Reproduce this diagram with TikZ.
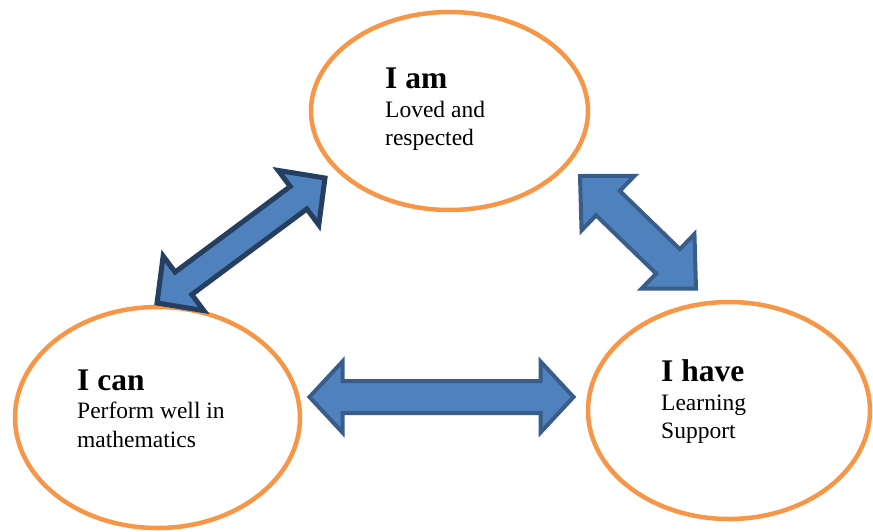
\documentclass[tikz,border=0pt]{standalone}
\usepackage{fontspec}
\setmainfont{Liberation Serif}
\usetikzlibrary{calc,shapes.geometric}
\definecolor{ellorange}{HTML}{F79646}
\definecolor{arrfill}{HTML}{4F81BD}
\definecolor{arredge}{HTML}{385D8A}
\definecolor{arredgedark}{HTML}{243F60}
\tikzset{
  oval/.style={ellipse, draw=ellorange, line width=4.5pt, fill=white, inner sep=0pt, outer sep=0pt},
  titletext/.style={anchor=base west, inner sep=0pt, font=\fontsize{31.5}{36}\selectfont\bfseries},
  bodytext/.style={anchor=base west, inner sep=0pt, font=\fontsize{23.5}{28}\selectfont},
  blockarrow/.style={fill=arrfill, draw=arredge, line width=4pt, line join=miter},
  blockarrowdark/.style={blockarrow, draw=arredgedark, line width=5pt}
}
% #1 style, #2 from, #3 to, #4 head length, #5 head half width, #6 shaft half width
\newcommand\blockarr[6]{%
  \draw[#1] (#2)
    -- ($(#2)!#4!(#3)!#5!90:(#3)$)
    -- ($(#2)!#4!(#3)!#6!90:(#3)$)
    -- ($(#3)!#4!(#2)!#6!90:(#3)$)
    -- ($(#3)!#4!(#2)!#5!90:(#3)$)
    -- (#3)
    -- ($(#3)!#4!(#2)!#5!-90:(#3)$)
    -- ($(#3)!#4!(#2)!#6!-90:(#3)$)
    -- ($(#2)!#4!(#3)!#6!-90:(#3)$)
    -- ($(#2)!#4!(#3)!#5!-90:(#3)$)
    -- cycle;}
\begin{document}
\begin{tikzpicture}[x=1pt,y=-1pt]
\useasboundingbox (0,0) rectangle (873,531);
% ellipses
\node[oval, minimum width=277pt, minimum height=198pt] (am) at (449.5,111) {};
\node[oval, minimum width=285pt, minimum height=221pt] (can) at (157.5,417.5) {};
\node[oval, minimum width=282pt, minimum height=217pt] (have) at (729,410.5) {};
% arrow end points
\coordinate (l1) at (157,303);
\coordinate (l2) at (325,178);
\coordinate (r1) at (580,176);
\coordinate (r2) at (696,288.5);
\coordinate (h1) at (309.5,397);
\coordinate (h2) at (573.5,397);
% block arrows
\blockarr{blockarrowdark}{l1}{l2}{33pt}{34pt}{14pt}
\blockarr{blockarrow}{r1}{r2}{39pt}{38pt}{17pt}
\blockarr{blockarrow}{h1}{h2}{33pt}{35.5pt}{16pt}
% texts
\node[titletext] (amT) at (385,88) {I am};
\node[bodytext] (amL1) at (385,117) {Loved and};
\node[bodytext] (amL2) at (385,145) {respected};
\node[titletext] (canT) at (77,390) {I can};
\node[bodytext] (canL1) at (77,418) {Perform well in};
\node[bodytext] (canL2) at (77,447) {mathematics};
\node[titletext] (haveT) at (661,381) {I have};
\node[bodytext] (haveL1) at (661,410) {Learning};
\node[bodytext] (haveL2) at (661,438) {Support};
\end{tikzpicture}
\end{document}
